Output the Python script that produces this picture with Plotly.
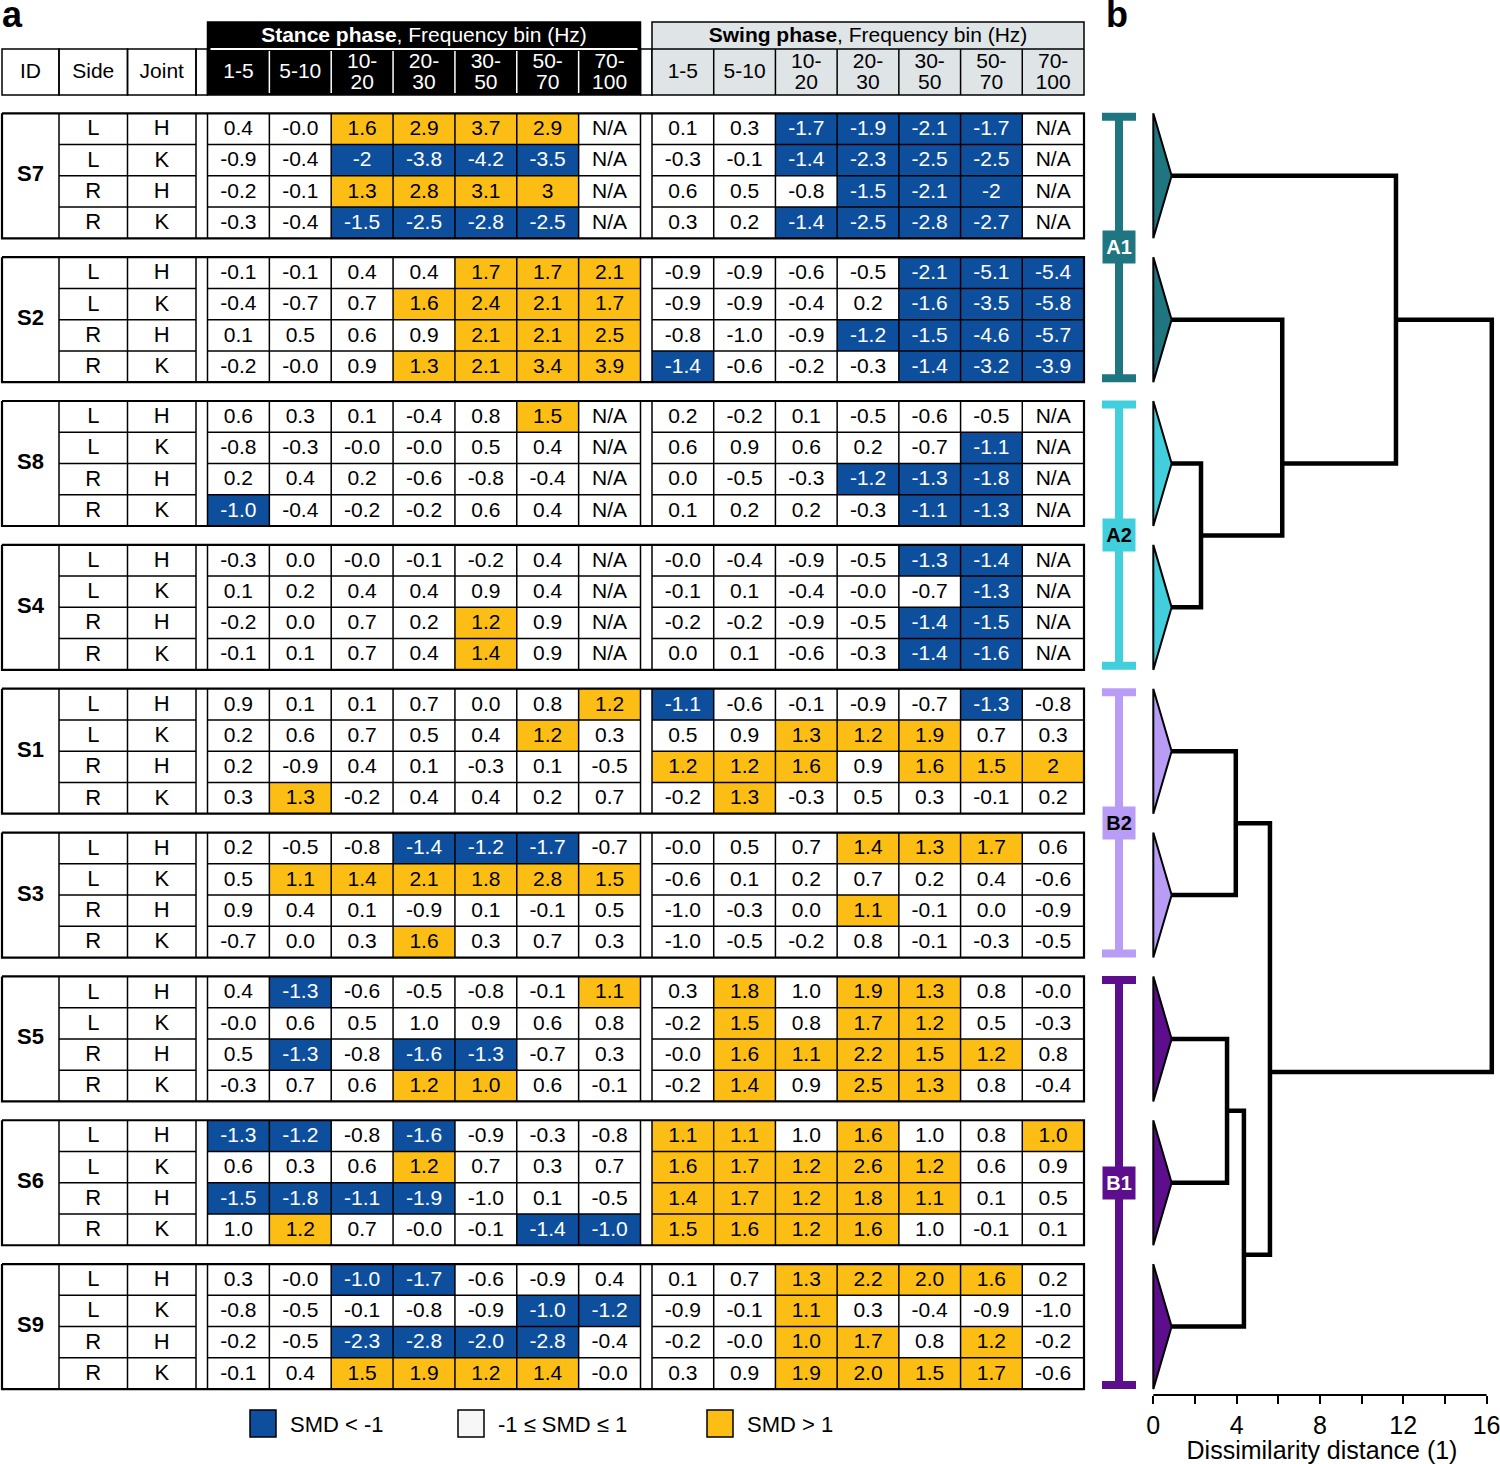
import plotly.graph_objects as go

# ---------------- data ----------------
subjects = ["S7", "S2", "S8", "S4", "S1", "S3", "S5", "S6", "S9"]
row_sides = ["L", "L", "R", "R"]
row_joints = ["H", "K", "H", "K"]
table_cols = ["ID", "Side", "Joint"]
freq_bins = [["1-5"], ["5-10"], ["10-", "20"], ["20-", "30"], ["30-", "50"], ["50-", "70"], ["70-", "100"]]
phase_titles = ["<b>Stance phase</b>, Frequency bin (Hz)", "<b>Swing phase</b>, Frequency bin (Hz)"]

# SMD values (rows: L-H, L-K, R-H, R-K per subject; columns: frequency bins)
stance_smd = [
    "0.4 -0.0 1.6 2.9 3.7 2.9 N/A", "-0.9 -0.4 -2 -3.8 -4.2 -3.5 N/A", "-0.2 -0.1 1.3 2.8 3.1 3 N/A", "-0.3 -0.4 -1.5 -2.5 -2.8 -2.5 N/A",  # S7
    "-0.1 -0.1 0.4 0.4 1.7 1.7 2.1", "-0.4 -0.7 0.7 1.6 2.4 2.1 1.7", "0.1 0.5 0.6 0.9 2.1 2.1 2.5", "-0.2 -0.0 0.9 1.3 2.1 3.4 3.9",  # S2
    "0.6 0.3 0.1 -0.4 0.8 1.5 N/A", "-0.8 -0.3 -0.0 -0.0 0.5 0.4 N/A", "0.2 0.4 0.2 -0.6 -0.8 -0.4 N/A", "-1.0 -0.4 -0.2 -0.2 0.6 0.4 N/A",  # S8
    "-0.3 0.0 -0.0 -0.1 -0.2 0.4 N/A", "0.1 0.2 0.4 0.4 0.9 0.4 N/A", "-0.2 0.0 0.7 0.2 1.2 0.9 N/A", "-0.1 0.1 0.7 0.4 1.4 0.9 N/A",  # S4
    "0.9 0.1 0.1 0.7 0.0 0.8 1.2", "0.2 0.6 0.7 0.5 0.4 1.2 0.3", "0.2 -0.9 0.4 0.1 -0.3 0.1 -0.5", "0.3 1.3 -0.2 0.4 0.4 0.2 0.7",  # S1
    "0.2 -0.5 -0.8 -1.4 -1.2 -1.7 -0.7", "0.5 1.1 1.4 2.1 1.8 2.8 1.5", "0.9 0.4 0.1 -0.9 0.1 -0.1 0.5", "-0.7 0.0 0.3 1.6 0.3 0.7 0.3",  # S3
    "0.4 -1.3 -0.6 -0.5 -0.8 -0.1 1.1", "-0.0 0.6 0.5 1.0 0.9 0.6 0.8", "0.5 -1.3 -0.8 -1.6 -1.3 -0.7 0.3", "-0.3 0.7 0.6 1.2 1.0 0.6 -0.1",  # S5
    "-1.3 -1.2 -0.8 -1.6 -0.9 -0.3 -0.8", "0.6 0.3 0.6 1.2 0.7 0.3 0.7", "-1.5 -1.8 -1.1 -1.9 -1.0 0.1 -0.5", "1.0 1.2 0.7 -0.0 -0.1 -1.4 -1.0",  # S6
    "0.3 -0.0 -1.0 -1.7 -0.6 -0.9 0.4", "-0.8 -0.5 -0.1 -0.8 -0.9 -1.0 -1.2", "-0.2 -0.5 -2.3 -2.8 -2.0 -2.8 -0.4", "-0.1 0.4 1.5 1.9 1.2 1.4 -0.0",  # S9
]
# SMD class per cell: B = SMD < -1, . = -1 <= SMD <= 1, Y = SMD > 1
stance_class = [
    "..YYYY.", "..BBBB.", "..YYYY.", "..BBBB.",
    "....YYY", "...YYYY", "....YYY", "...YYYY",
    ".....Y.", ".......", ".......", "B......",
    ".......", ".......", "....Y..", "....Y..",
    "......Y", ".....Y.", ".......", ".Y.....",
    "...BBB.", ".YYYYYY", ".......", "...Y...",
    ".B....Y", ".......", ".B.BB..", "...YY..",
    "BB.B...", "...Y...", "BBBB...", ".Y...BB",
    "..BB...", ".....BB", "..BBBB.", "..YYYY.",
]
swing_smd = [
    "0.1 0.3 -1.7 -1.9 -2.1 -1.7 N/A", "-0.3 -0.1 -1.4 -2.3 -2.5 -2.5 N/A", "0.6 0.5 -0.8 -1.5 -2.1 -2 N/A", "0.3 0.2 -1.4 -2.5 -2.8 -2.7 N/A",  # S7
    "-0.9 -0.9 -0.6 -0.5 -2.1 -5.1 -5.4", "-0.9 -0.9 -0.4 0.2 -1.6 -3.5 -5.8", "-0.8 -1.0 -0.9 -1.2 -1.5 -4.6 -5.7", "-1.4 -0.6 -0.2 -0.3 -1.4 -3.2 -3.9",  # S2
    "0.2 -0.2 0.1 -0.5 -0.6 -0.5 N/A", "0.6 0.9 0.6 0.2 -0.7 -1.1 N/A", "0.0 -0.5 -0.3 -1.2 -1.3 -1.8 N/A", "0.1 0.2 0.2 -0.3 -1.1 -1.3 N/A",  # S8
    "-0.0 -0.4 -0.9 -0.5 -1.3 -1.4 N/A", "-0.1 0.1 -0.4 -0.0 -0.7 -1.3 N/A", "-0.2 -0.2 -0.9 -0.5 -1.4 -1.5 N/A", "0.0 0.1 -0.6 -0.3 -1.4 -1.6 N/A",  # S4
    "-1.1 -0.6 -0.1 -0.9 -0.7 -1.3 -0.8", "0.5 0.9 1.3 1.2 1.9 0.7 0.3", "1.2 1.2 1.6 0.9 1.6 1.5 2", "-0.2 1.3 -0.3 0.5 0.3 -0.1 0.2",  # S1
    "-0.0 0.5 0.7 1.4 1.3 1.7 0.6", "-0.6 0.1 0.2 0.7 0.2 0.4 -0.6", "-1.0 -0.3 0.0 1.1 -0.1 0.0 -0.9", "-1.0 -0.5 -0.2 0.8 -0.1 -0.3 -0.5",  # S3
    "0.3 1.8 1.0 1.9 1.3 0.8 -0.0", "-0.2 1.5 0.8 1.7 1.2 0.5 -0.3", "-0.0 1.6 1.1 2.2 1.5 1.2 0.8", "-0.2 1.4 0.9 2.5 1.3 0.8 -0.4",  # S5
    "1.1 1.1 1.0 1.6 1.0 0.8 1.0", "1.6 1.7 1.2 2.6 1.2 0.6 0.9", "1.4 1.7 1.2 1.8 1.1 0.1 0.5", "1.5 1.6 1.2 1.6 1.0 -0.1 0.1",  # S6
    "0.1 0.7 1.3 2.2 2.0 1.6 0.2", "-0.9 -0.1 1.1 0.3 -0.4 -0.9 -1.0", "-0.2 -0.0 1.0 1.7 0.8 1.2 -0.2", "0.3 0.9 1.9 2.0 1.5 1.7 -0.6",  # S9
]
swing_class = [
    "..BBBB.", "..BBBB.", "...BBB.", "..BBBB.",
    "....BBB", "....BBB", "...BBBB", "B...BBB",
    ".......", ".....B.", "...BBB.", "....BB.",
    "....BB.", ".....B.", "....BB.", "....BB.",
    "B....B.", "..YYY..", "YYY.YYY", ".Y.....",
    "...YYY.", ".......", "...Y...", ".......",
    ".Y.YY..", ".Y.YY..", ".YYYYY.", ".Y.YY..",
    "YY.Y..Y", "YYYYY..", "YYYYY..", "YYYY...",
    "..YYYY.", "..Y....", "..YY.Y.", "..YYYY.",
]
legend_labels = ["SMD &lt; -1", "-1 ≤ SMD ≤ 1", "SMD &gt; 1"]
legend_codes = ["B", "W", "Y"]

# dendrogram (leaves = subjects in table order)
clusters = ["A1", "A2", "B2", "B1"]
cluster_first_leaf = [0, 2, 4, 6]
cluster_last_leaf = [1, 3, 5, 8]
leaf_cluster = [0, 0, 1, 1, 2, 2, 3, 3, 3]
leaf_height = 0.88
merge_left = [2, 1, 0, 4, 6, 13, 12, 11]
merge_right = [3, 9, 10, 5, 7, 8, 14, 15]
merge_height = [2.29, 6.19, 11.65, 3.96, 3.54, 4.35, 5.6, 16.25]
merge_pos = [2.5, 2.0, 1.0, 4.5, 6.5, 7.5, 6.23, None]
dist_ticks = [0, 2, 4, 6, 8, 10, 12, 14, 16]
dist_ticklabels = ["0", "", "4", "", "8", "", "12", "", "16"]
dist_title = "Dissimilarity distance (1)"

# ---------------- style / layout ----------------
W, H = 1500, 1464
FONT = "Liberation Sans, Arial, Helvetica, sans-serif"
FILL = {"B": "#0e4f9d", "Y": "#fcbe14", "W": "#f7f7f7"}
cluster_colors = ["#1f7580", "#41cfdd", "#b89cf6", "#5c0e8c"]
cluster_text = ["white", "black", "black", "white"]
SWING_GREY = "#dfe4e6"

col_widths = [57, 68.5, 68.5, 11.5] + [61.857] * 7 + [11.5] + [61.714] * 7
edges = [2.0]
for w in col_widths:
    edges.append(edges[-1] + w)
STANCE_C0, SWING_C0 = 4, 12
TOP0, GROUP_H, PERIOD = 113.3, 125.0, 143.85
ROW_H = GROUP_H / 4
HDR_TOP, HDR_MID, HDR_BOT = 22, 49, 95
TABLE_XMAX = 1147.0
PX_PER_DIST, DIST_ZERO_PX = 20.83, 1153.3
DIST_RANGE = [-0.3, 16.5]
AXIS_Y = 1395
BAR_X, CAP_HALF = 1119, 17


def gtop(g):
    return TOP0 + g * PERIOD


def leaf_y(p):
    return TOP0 + GROUP_H / 2 + p * PERIOD


def ccenter(c):
    return (edges[c] + edges[c + 1]) / 2


fig = go.Figure()
shapes, annos = [], []

# ---- colored cells ----
polys = {"B": ([], []), "Y": ([], [])}
texts = {"x": [], "y": [], "t": [], "c": []}
for phase_vals, phase_cls, c0 in ((stance_smd, stance_class, STANCE_C0), (swing_smd, swing_class, SWING_C0)):
    for i, (vals, cls) in enumerate(zip(phase_vals, phase_cls)):
        g, r = divmod(i, 4)
        y0 = gtop(g) + r * ROW_H
        y1 = y0 + ROW_H
        for j, (v, k) in enumerate(zip(vals.split(), cls)):
            c = c0 + j
            if k in polys:
                xs, ys = polys[k]
                xs += [edges[c], edges[c + 1], edges[c + 1], edges[c], edges[c], None]
                ys += [y0, y0, y1, y1, y0, None]
            texts["x"].append(ccenter(c))
            texts["y"].append((y0 + y1) / 2 + 1)
            texts["t"].append(v)
            texts["c"].append("white" if k == "B" else "black")

for k, (xs, ys) in polys.items():
    fig.add_trace(go.Scatter(x=xs, y=ys, mode="lines", fill="toself", fillcolor=FILL[k],
                             line=dict(width=0), hoverinfo="skip", xaxis="x", yaxis="y"))

# ---- grid lines ----
gx, gy, ox, oy = [], [], [], []
for g in range(len(subjects)):
    t, b = gtop(g), gtop(g) + GROUP_H
    ox += [edges[0], edges[-1], edges[-1], edges[0], edges[0], None]
    oy += [t, t, b, b, t, None]
    for c in range(1, len(edges) - 1):
        gx += [edges[c], edges[c], None]
        gy += [t, b, None]
    for k in range(1, 4):
        yy = t + k * ROW_H
        for a, bb in ((1, 3), (STANCE_C0, STANCE_C0 + 7), (SWING_C0, SWING_C0 + 7)):
            gx += [edges[a], edges[bb], None]
            gy += [yy, yy, None]
fig.add_trace(go.Scatter(x=gx, y=gy, mode="lines", line=dict(color="black", width=1.5),
                         hoverinfo="skip"))
fig.add_trace(go.Scatter(x=ox, y=oy, mode="lines", line=dict(color="black", width=2.2),
                         hoverinfo="skip"))

# ---- left labels ----
lx, ly, lt = [], [], []
for g, s in enumerate(subjects):
    lx.append(ccenter(0)); ly.append(gtop(g) + GROUP_H / 2); lt.append("<b>%s</b>" % s)
    for r in range(4):
        yy = gtop(g) + (r + 0.5) * ROW_H + 1
        lx += [ccenter(1), ccenter(2)]
        ly += [yy, yy]
        lt += [row_sides[r], row_joints[r]]
fig.add_trace(go.Scatter(x=lx, y=ly, text=lt, mode="text", textposition="middle center",
                         textfont=dict(family=FONT, size=22, color="black"), cliponaxis=False,
                         hoverinfo="skip"))

fig.add_trace(go.Scatter(x=texts["x"], y=texts["y"], text=texts["t"], mode="text",
                         textposition="middle center",
                         textfont=dict(family=FONT, size=21, color=texts["c"]),
                         cliponaxis=False, hoverinfo="skip"))

# ---- header ----
def hshape(**kw):
    d = dict(xref="x", yref="y", layer="below")
    d.update(kw)
    shapes.append(d)


for c in range(4):
    hshape(type="rect", x0=edges[c], x1=edges[c + 1], y0=HDR_MID, y1=HDR_BOT,
           line=dict(color="black", width=1.5))
hshape(type="rect", x0=edges[11], x1=edges[12], y0=HDR_MID, y1=HDR_BOT, line=dict(color="black", width=1.5))
hshape(type="rect", x0=edges[STANCE_C0], x1=edges[STANCE_C0 + 7], y0=HDR_TOP, y1=HDR_BOT,
       fillcolor="black", line=dict(color="black", width=1.5))
hshape(type="rect", x0=edges[SWING_C0], x1=edges[SWING_C0 + 7], y0=HDR_TOP, y1=HDR_BOT,
       fillcolor=SWING_GREY, line=dict(color="black", width=1.5))
hshape(type="line", x0=edges[STANCE_C0] + 3, x1=edges[STANCE_C0 + 7] - 3, y0=HDR_MID, y1=HDR_MID,
       line=dict(color="white", width=2))
hshape(type="line", x0=edges[SWING_C0], x1=edges[SWING_C0 + 7], y0=HDR_MID, y1=HDR_MID,
       line=dict(color="black", width=1.5))
for j in range(1, 7):
    hshape(type="line", x0=edges[STANCE_C0 + j], x1=edges[STANCE_C0 + j], y0=HDR_MID + 2, y1=HDR_BOT - 2,
           line=dict(color="white", width=1.5))
    hshape(type="line", x0=edges[SWING_C0 + j], x1=edges[SWING_C0 + j], y0=HDR_MID, y1=HDR_BOT,
           line=dict(color="black", width=1.5))

hx, hy, ht, hc = [], [], [], []
for c, lab in enumerate(table_cols):
    hx.append(ccenter(c)); hy.append((HDR_MID + HDR_BOT) / 2 + 1); ht.append(lab); hc.append("black")
for c0, col, title in ((STANCE_C0, "white", phase_titles[0]), (SWING_C0, "black", phase_titles[1])):
    hx.append((edges[c0] + edges[c0 + 7]) / 2); hy.append((HDR_TOP + HDR_MID) / 2 + 1)
    ht.append(title); hc.append(col)
    for j, lines in enumerate(freq_bins):
        mid = (HDR_MID + HDR_BOT) / 2 + 1
        offs = [0] if len(lines) == 1 else [-10.5, 10.5]
        for ln, o in zip(lines, offs):
            hx.append(ccenter(c0 + j)); hy.append(mid + o); ht.append(ln); hc.append(col)
fig.add_trace(go.Scatter(x=hx, y=hy, text=ht, mode="text", textposition="middle center",
                         textfont=dict(family=FONT, size=21, color=hc), cliponaxis=False,
                         hoverinfo="skip"))

# ---- legend ----
LEG_X = [250, 458, 707]
for x0, lab, k in zip(LEG_X, legend_labels, legend_codes):
    shapes.append(dict(type="rect", xref="x", yref="y", x0=x0, x1=x0 + 26, y0=1410, y1=1437,
                       fillcolor=FILL[k], line=dict(color="black", width=1.5)))
    annos.append(dict(xref="x", yref="y", x=x0 + 38, y=1424, text=lab, showarrow=False,
                      xanchor="left", yanchor="middle", font=dict(family=FONT, size=22, color="black")))

# ---- panel letters ----
for x, lab in ((12, "a"), (1117, "b")):
    annos.append(dict(xref="x", yref="y", x=x, y=14, text="<b>%s</b>" % lab, showarrow=False,
                      xanchor="center", yanchor="middle", font=dict(family=FONT, size=36, color="black")))

# ---- cluster bars ----
for ci, name in enumerate(clusters):
    t = gtop(cluster_first_leaf[ci]) + 3.5
    b = gtop(cluster_last_leaf[ci]) + GROUP_H - 4
    col = cluster_colors[ci]
    fig.add_trace(go.Scatter(x=[BAR_X, BAR_X], y=[t, b], mode="lines", line=dict(color=col, width=8),
                             hoverinfo="skip"))
    fig.add_trace(go.Scatter(x=[BAR_X - CAP_HALF, BAR_X + CAP_HALF, None, BAR_X - CAP_HALF, BAR_X + CAP_HALF],
                             y=[t, t, None, b, b], mode="lines", line=dict(color=col, width=8),
                             hoverinfo="skip"))
    annos.append(dict(xref="x", yref="y", x=BAR_X, y=(t + b) / 2, text="<b>%s</b>" % name,
                      showarrow=False, bgcolor=col, width=32, height=32, borderpad=0,
                      font=dict(family=FONT, size=20, color=cluster_text[ci])))

# ---- dendrogram triangles ----
for ci in range(len(clusters)):
    xs, ys = [], []
    for leaf, lc in enumerate(leaf_cluster):
        if lc != ci:
            continue
        t, b = gtop(leaf), gtop(leaf) + GROUP_H
        xs += [0, leaf_height, 0, 0, None]
        ys += [t, leaf_y(leaf), b, t, None]
    fig.add_trace(go.Scatter(x=xs, y=ys, mode="lines", fill="toself", fillcolor=cluster_colors[ci],
                             line=dict(color="black", width=2), xaxis="x2", yaxis="y",
                             hoverinfo="skip"))

# ---- dendrogram links ----
node_pos = list(range(len(subjects)))
node_h = [leaf_height] * len(subjects)
dx, dy = [], []
for a, b, h, p in zip(merge_left, merge_right, merge_height, merge_pos):
    pa, pb = node_pos[a], node_pos[b]
    dx += [node_h[a], h, h, node_h[b], None]
    dy += [leaf_y(pa), leaf_y(pa), leaf_y(pb), leaf_y(pb), None]
    node_pos.append(p)
    node_h.append(h)
fig.add_trace(go.Scatter(x=dx, y=dy, mode="lines", line=dict(color="black", width=4.5),
                         xaxis="x2", yaxis="y", hoverinfo="skip"))
fig.add_trace(go.Scatter(x=[dist_ticks[0], dist_ticks[-1]], y=[AXIS_Y, AXIS_Y], mode="lines",
                         line=dict(color="black", width=2), xaxis="x2", yaxis="y", hoverinfo="skip"))

x2_left = DIST_ZERO_PX + DIST_RANGE[0] * PX_PER_DIST
x2_right = DIST_ZERO_PX + DIST_RANGE[1] * PX_PER_DIST

fig.update_layout(
    width=W, height=H, margin=dict(l=0, r=0, t=0, b=0),
    paper_bgcolor="white", plot_bgcolor="white", showlegend=False,
    font=dict(family=FONT, color="black"),
    shapes=shapes, annotations=annos,
    xaxis=dict(domain=[0, TABLE_XMAX / W], range=[0, TABLE_XMAX], visible=False),
    yaxis=dict(domain=[0, 1], range=[H, 0], visible=False),
    xaxis2=dict(domain=[x2_left / W, x2_right / W], range=DIST_RANGE, anchor="free",
                position=(H - AXIS_Y) / H, showline=False, showgrid=False, zeroline=False,
                tickmode="array", tickvals=dist_ticks, ticktext=dist_ticklabels,
                ticks="outside", ticklen=8, tickwidth=2, tickcolor="black",
                ticklabeloverflow="allow",
                tickfont=dict(family=FONT, size=25, color="black"),
                title=dict(text=dist_title, font=dict(family=FONT, size=25, color="black"), standoff=2),
                automargin=False),
)

fig.write_html("out.html", config={"displayModeBar": False, "staticPlot": True},
               post_script="document.body.style.margin='0';")
